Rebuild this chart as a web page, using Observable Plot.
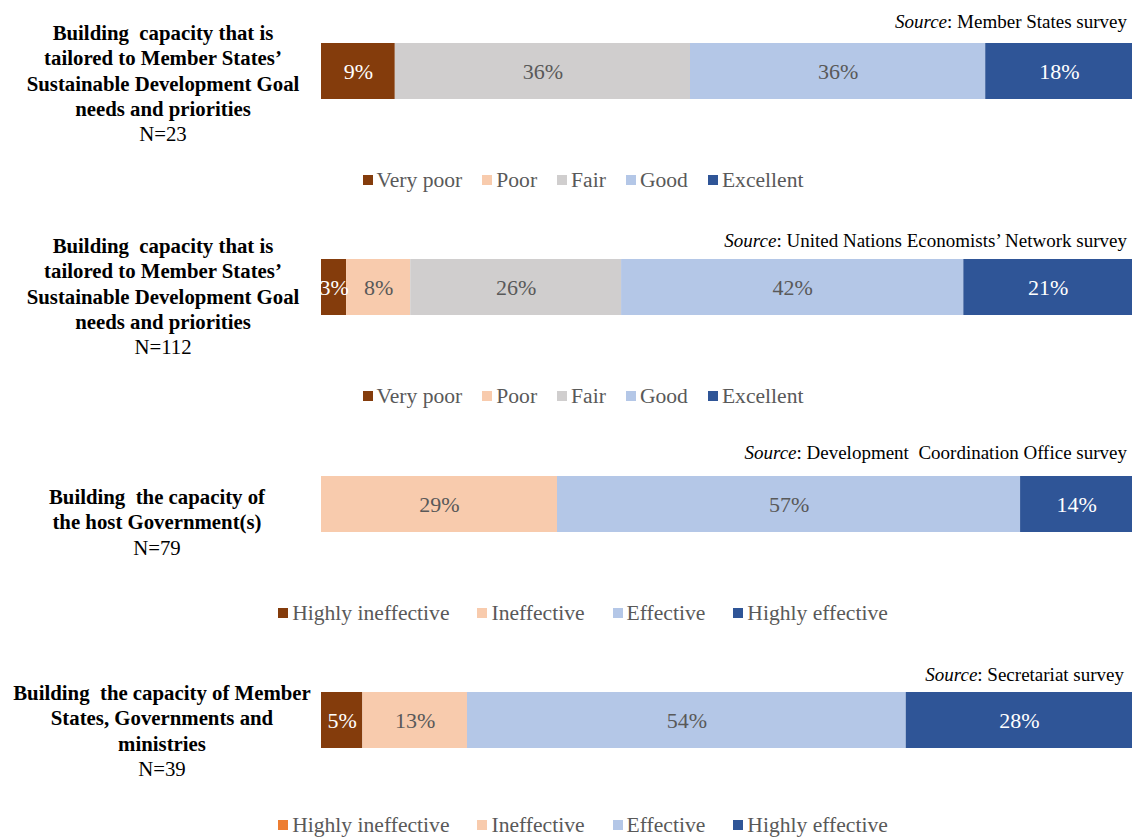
<!DOCTYPE html>
<html><head><meta charset="utf-8">
<script src="https://cdn.jsdelivr.net/npm/d3@7"></script>
<script src="https://cdn.jsdelivr.net/npm/@observablehq/plot@0.6"></script>
<style>
body{margin:0;background:#fff;font-family:"Liberation Serif","Times New Roman",serif;}
#root{position:relative;width:1132px;height:838px;overflow:hidden;background:#fff;font-family:"Liberation Serif","Times New Roman",serif;}
.panel{position:absolute;left:0;width:1132px;height:216px;}
.lbl{position:absolute;left:0;text-align:center;font-size:20.8px;line-height:25.3px;color:#000;white-space:nowrap;font-family:"Liberation Serif",serif;}
.lbl b{font-weight:bold;}
.src{position:absolute;font-size:19px;line-height:19px;color:#000;white-space:nowrap;font-family:"Liberation Serif",serif;}
.leg{position:absolute;left:0;width:1166px;display:flex;justify-content:center;font-size:21.6px;line-height:24px;color:#595959;white-space:nowrap;font-family:"Liberation Serif",serif;}
.item{display:flex;align-items:center;}
.sw{width:10px;height:10px;margin-right:4px;display:inline-block;}
</style>
</head><body>
<div id="root"></div>
<script>
// ---- data ----
const panelKeys = ["ms", "un", "dco", "sec"];
const titleLines = [
  ["Building  capacity that is", "tailored to Member States’", "Sustainable Development Goal", "needs and priorities"],
  ["Building  capacity that is", "tailored to Member States’", "Sustainable Development Goal", "needs and priorities"],
  ["Building  the capacity of", "the host Government(s)"],
  ["Building  the capacity of Member", "States, Governments and", "ministries"]
];
const respondents = [23, 112, 79, 39];
const sources = [
  "Member States survey",
  "United Nations Economists’ Network survey",
  "Development  Coordination Office survey",
  "Secretariat survey"
];
const ratingCats = ["Very poor", "Poor", "Fair", "Good", "Excellent"];
const effectCats = ["Highly ineffective", "Ineffective", "Effective", "Highly effective"];
const ratingColors = ["#843C0C", "#F8CBAD", "#D0CECE", "#B4C7E7", "#2F5597"];
const effectColors = ["#843C0C", "#F8CBAD", "#B4C7E7", "#2F5597"];
const effectLegendColorsLast = ["#ED7D31", "#F8CBAD", "#B4C7E7", "#2F5597"];
const darkCats = ["Very poor", "Excellent", "Highly ineffective", "Highly effective"];

const valuesMS  = [9.1, 0, 36.4, 36.4, 18.2];
const valuesUN  = [3.1, 7.9, 26.0, 42.2, 20.8];
const valuesDCO = [0, 29.1, 57.1, 13.8];
const valuesSEC = [5.1, 12.9, 54.1, 27.9];

const panelValues = [valuesMS, valuesUN, valuesDCO, valuesSEC];
const panelCats = [ratingCats, ratingCats, effectCats, effectCats];
const panelColors = [ratingColors, ratingColors, effectColors, effectColors];
const legendColors = [ratingColors, ratingColors, effectColors, effectLegendColorsLast];

// ---- layout ----
const panelTop = [0, 216, 433, 649];
const labelTop = [20, 17, 51, 31];
const labelWidth = [326, 326, 314, 324];
const srcTop = [12, 15, 10, 16];
const srcRight = [5, 5, 5, 8];
const legendGap = [20, 20, 28, 28];
const legendTop = [168, 168, 168, 164];

const root = document.getElementById("root");
const font = '"Liberation Serif","Times New Roman",serif';

panelKeys.forEach((key, i) => {
  const panel = document.createElement("div");
  panel.className = "panel";
  panel.style.top = panelTop[i] + "px";
  root.appendChild(panel);

  const lbl = document.createElement("div");
  lbl.className = "lbl";
  lbl.style.top = labelTop[i] + "px";
  lbl.style.width = labelWidth[i] + "px";
  lbl.innerHTML = titleLines[i].map(t => "<b>" + t.replace(/  /g, "&nbsp; ") + "</b>").join("<br>") + "<br>N=" + respondents[i];
  panel.appendChild(lbl);

  const src = document.createElement("div");
  src.className = "src";
  src.style.top = srcTop[i] + "px";
  src.style.right = srcRight[i] + "px";
  src.innerHTML = "<i>Source</i>: " + sources[i].replace(/  /g, "&nbsp; ");
  panel.appendChild(src);

  const cats = panelCats[i];
  const rows = cats.map((c, j) => ({panel: key, cat: c, value: panelValues[i][j]})).filter(d => d.value > 0);
  const lab = d => Math.round(d.value) + "%";
  const chart = Plot.plot({
    width: 1132, height: 56,
    marginLeft: 321, marginRight: 0, marginTop: 0, marginBottom: 0,
    x: {domain: [0, 100], axis: null},
    y: {domain: [key], axis: null, padding: 0},
    color: {domain: cats, range: panelColors[i]},
    style: {fontFamily: font, fontSize: "22px", background: "transparent", overflow: "visible"},
    marks: [
      Plot.barX(rows, Plot.stackX({x: "value", y: "panel", fill: "cat", order: cats})),
      Plot.text(rows, Plot.stackX({x: "value", y: "panel", z: "cat", order: cats,
        text: d => darkCats.includes(d.cat) ? lab(d) : "", fill: "white", clip: "frame",
        fontSize: 22, fontFamily: font})),
      Plot.text(rows, Plot.stackX({x: "value", y: "panel", z: "cat", order: cats,
        text: d => darkCats.includes(d.cat) ? "" : lab(d), fill: "#595959", clip: "frame",
        fontSize: 22, fontFamily: font}))
    ]
  });
  chart.style.position = "absolute";
  chart.style.top = "43px";
  chart.style.left = "0px";
  panel.appendChild(chart);

  const leg = document.createElement("div");
  leg.className = "leg";
  leg.style.top = legendTop[i] + "px";
  leg.style.gap = legendGap[i] + "px";
  cats.forEach((c, j) => {
    const it = document.createElement("span");
    it.className = "item";
    it.innerHTML = '<span class="sw" style="background:' + legendColors[i][j] + '"></span>' + c;
    leg.appendChild(it);
  });
  panel.appendChild(leg);
});
</script>
</body></html>
